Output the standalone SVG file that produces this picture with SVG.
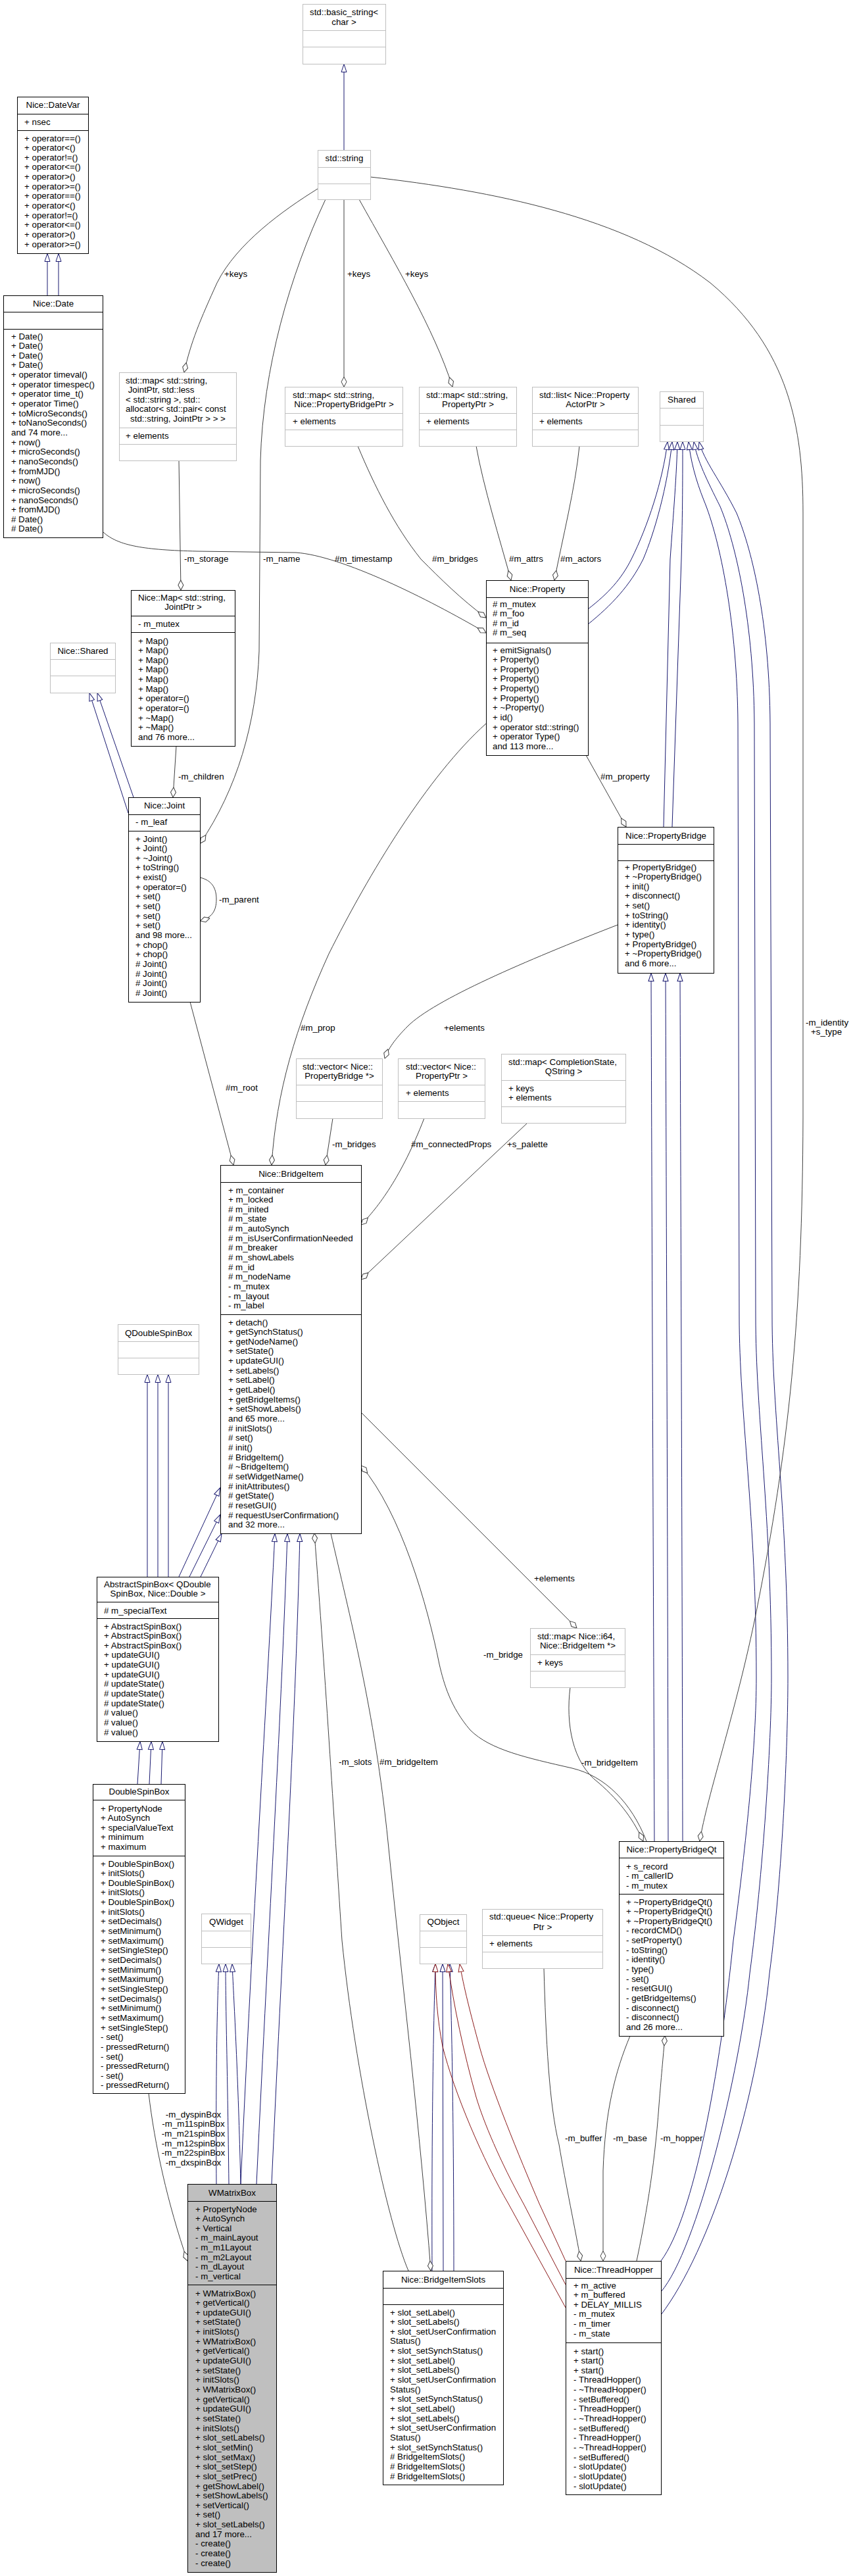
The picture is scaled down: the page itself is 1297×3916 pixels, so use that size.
<svg xmlns="http://www.w3.org/2000/svg" width="1297" height="3916" viewBox="0 0 1297 3916">
<style>
text{font-family:"Liberation Sans",Arial,sans-serif;font-size:13.33px;fill:#000}
.c{text-anchor:middle}
.b{fill:#fff;stroke:#000;stroke-width:1}
.g{fill:#fff;stroke:#bfbfbf;stroke-width:1}
.f{fill:#bfbfbf;stroke:#000;stroke-width:1}
.bs{fill:none;stroke:#000;stroke-width:1}
.gs{fill:none;stroke:#bfbfbf;stroke-width:1}
.e{fill:none;stroke:#404040;stroke-width:1;marker-end:url(#dia)}
.i{fill:none;stroke:#191970;stroke-width:1;marker-end:url(#tri)}
.p{fill:none;stroke:#8b1a1a;stroke-width:1;marker-end:url(#trir)}
</style>
<defs>
<marker id="tri" viewBox="0 0 14 10" refX="13" refY="5" markerWidth="14" markerHeight="10" markerUnits="userSpaceOnUse" orient="auto"><path d="M1,1 L13,5 L1,9 Z" fill="#fff" stroke="#191970"/></marker>
<marker id="trir" viewBox="0 0 14 10" refX="13" refY="5" markerWidth="14" markerHeight="10" markerUnits="userSpaceOnUse" orient="auto"><path d="M1,1 L13,5 L1,9 Z" fill="#fff" stroke="#8b1a1a"/></marker>
<marker id="dia" viewBox="0 0 16 10" refX="15.5" refY="5" markerWidth="16" markerHeight="10" markerUnits="userSpaceOnUse" orient="auto"><path d="M0.5,5 L8,1 L15.5,5 L8,9 Z" fill="#fff" stroke="#404040"/></marker>
</defs>
<rect width="1297" height="3916" fill="#fff"/>

<g id="connectors">
<path class="i" d="M523,228 L523,97.5"/>
<path class="i" d="M72,449 L72,385.5"/>
<path class="i" d="M89,449 L89,385.5"/>
<path class="i" d="M195,1236 L136,1053.5"/>
<path class="i" d="M203,1212 L148,1053.5"/>
<path class="i" d="M894,926 C925,902 945,880 960,850 C985,800 1008,730 1015,671.5"/>
<path class="i" d="M894,949 C930,920 958,890 978,850 C995,810 1015,740 1022,671.5"/>
<path class="i" d="M1009,1257 L1019,850 C1024,780 1029,720 1030,671.5"/>
<path class="i" d="M1022,1257 L1036,850 C1038,780 1038,720 1038,671.5"/>
<path class="i" d="M1005,3437 C1055,3370 1095,3150 1115,2950 C1135,2800 1150,2650 1150,2550 C1150,2300 1124,2150 1124,2000 L1122,1100 C1121,950 1095,820 1070,760 C1058,730 1050,700 1047,671.5"/>
<path class="i" d="M1005,3484 C1060,3420 1125,3150 1140,3000 C1160,2850 1173,2650 1173,2550 C1173,2300 1149,2150 1149,2000 L1147,1100 C1146,950 1120,830 1095,770 C1075,730 1060,700 1055,671.5"/>
<path class="i" d="M1005,3519 C1080,3420 1150,3200 1170,3000 C1190,2850 1198,2650 1198,2550 C1198,2300 1174,2150 1174,2000 L1171,1100 C1170,950 1145,840 1120,780 C1095,730 1070,700 1063,671.5"/>
<path class="i" d="M995,2799 C993,2300 991,1800 990,1479.5"/>
<path class="i" d="M1016,2799 C1015,2300 1013,1800 1012,1479.5"/>
<path class="i" d="M1038,2799 C1037,2300 1035,1800 1034,1479.5"/>
<path class="i" d="M224,2397 L224,2089.5"/>
<path class="i" d="M240,2397 L240,2089.5"/>
<path class="i" d="M256,2397 L256,2089.5"/>
<path class="i" d="M272,2397 L334.5,2262"/>
<path class="i" d="M288,2397 L334.5,2303"/>
<path class="i" d="M305,2397 L337,2331.5"/>
<path class="i" d="M209,2712 L213,2647.5"/>
<path class="i" d="M227,2712 L230,2647.5"/>
<path class="i" d="M245,2712 L247,2647.5"/>
<path class="i" d="M329,3320 C328,3150 330,3050 333,2985.5"/>
<path class="i" d="M348,3320 C346,3150 343,3050 343,2985.5"/>
<path class="i" d="M366,3320 C362,3150 356,3050 353,2985.5"/>
<path class="i" d="M366,3320 C385,2900 405,2600 418,2331.5"/>
<path class="i" d="M390,3320 C410,2900 428,2600 437,2331.5"/>
<path class="i" d="M413,3320 C432,2900 450,2600 456,2331.5"/>
<path class="i" d="M657,3452 C656,3200 660,3050 662,2985.5"/>
<path class="i" d="M674,3452 L673,2985.5"/>
<path class="i" d="M690,3452 C690,3200 686,3050 684,2985.5"/>
<path class="p" d="M860,3508 L773,3350 C735,3285 690,3180 673,3111 C665,3070 662,3030 662,2985.5"/>
<path class="p" d="M860,3473 L796,3350 C760,3285 735,3225 724,3188 C705,3120 690,3050 681,2985.5"/>
<path class="p" d="M860,3437 L820,3350 C790,3280 745,3170 729,3111 C715,3060 705,3020 699,2985.5"/>

<path class="e" d="M483,287 C430,320 360,370 330,430 C305,485 290,520 280,566"/>
<path class="e" d="M523,303 L523,588"/>
<path class="e" d="M546,303 C600,400 660,500 688,588"/>
<path class="e" d="M495,303 C440,420 400,560 396,700 L394,990 C390,1100 360,1200 304.5,1282"/>
<path class="e" d="M272,700 L275,897"/>
<path class="e" d="M268,1134 L263,1212"/>
<path class="e" d="M304,1334 C322,1338 329,1350 329,1367 C329,1385 322,1395 304.5,1400"/>
<path class="e" d="M157,809 C180,830 220,836 300,838 L450,840 C520,845 650,910 739,962"/>
<path class="e" d="M544,678 C570,740 600,800 640,850 C670,880 700,910 739,939"/>
<path class="e" d="M724,678 C735,740 760,820 777,882"/>
<path class="e" d="M881,678 C875,740 855,820 843,882"/>
<path class="e" d="M891,1148 L952,1257"/>
<path class="e" d="M739,1100 C650,1180 560,1330 500,1450 C450,1560 420,1660 413,1771"/>
<path class="e" d="M289,1523 L355,1771"/>
<path class="e" d="M563,269 C750,290 950,330 1080,430 C1200,530 1221,650 1221,780 L1221,1700 C1220,2000 1200,2200 1150,2450 C1120,2600 1075,2730 1064,2799"/>
<path class="e" d="M939,1406 C800,1460 660,1520 620,1560 C600,1580 590,1595 585,1609"/>
<path class="e" d="M506,1700 L495,1771"/>
<path class="e" d="M645,1700 C610,1790 575,1835 549,1862"/>
<path class="e" d="M802,1707 L549,1945"/>
<path class="e" d="M549,2147 L877,2475"/>
<path class="e" d="M983,2799 C960,2740 920,2700 870,2688 C800,2672 745,2660 715,2630 C685,2595 675,2560 668,2530 C650,2440 610,2300 549,2228"/>
<path class="e" d="M867,2565 C860,2620 870,2680 910,2710 C945,2740 965,2770 978,2799"/>
<path class="e" d="M621,3452 C590,3380 540,3150 520,2950 C510,2800 495,2550 478,2331"/>
<path class="e" d="M503,2331 C530,2450 570,2600 590,2800 C610,3000 640,3250 655,3452"/>
<path class="e" d="M226,3182 C235,3260 255,3350 285,3437"/>
<path class="e" d="M827,2992 C830,3100 835,3200 850,3260 C860,3320 875,3390 883,3437"/>
<path class="e" d="M958,3095 C935,3150 920,3210 917,3300 L917,3437"/>
<path class="e" d="M968,3437 C980,3380 995,3300 1002,3200 C1006,3150 1009,3120 1011,3095"/>

<g id="edge-labels">
<text x="341" y="420.5">+keys</text>
<text x="528" y="420.5">+keys</text>
<text x="616" y="420.5">+keys</text>
<text x="280" y="853.5">-m_storage</text>
<text x="400" y="853.5">-m_name</text>
<text x="509" y="853.5">#m_timestamp</text>
<text x="657" y="853.5">#m_bridges</text>
<text x="774" y="853.5">#m_attrs</text>
<text x="852" y="853.5">#m_actors</text>
<text x="271" y="1184.5">-m_children</text>
<text x="333" y="1371.5">-m_parent</text>
<text x="913" y="1184.5">#m_property</text>
<text x="1225" y="1559">-m_identity</text>
<text x="1233" y="1572.5">+s_type</text>
<text x="675" y="1566.5">+elements</text>
<text x="457" y="1566.5">#m_prop</text>
<text x="343" y="1657.5">#m_root</text>
<text x="505" y="1743.5">-m_bridges</text>
<text x="625" y="1743.5">#m_connectedProps</text>
<text x="771" y="1743.5">+s_palette</text>
<text x="812" y="2404">+elements</text>
<text x="735" y="2520">-m_bridge</text>
<text x="515" y="2682.5">-m_slots</text>
<text x="577" y="2682.5">#m_bridgeItem</text>
<text x="884" y="2683.5">-m_bridgeItem</text>
<text class="c" x="294" y="3218.5">-m_dyspinBox</text>
<text class="c" x="294" y="3233.2">-m_m11spinBox</text>
<text class="c" x="294" y="3247.8">-m_m21spinBox</text>
<text class="c" x="294" y="3262.5">-m_m12spinBox</text>
<text class="c" x="294" y="3277.1">-m_m22spinBox</text>
<text class="c" x="294" y="3291.8">-m_dxspinBox</text>
<text x="859" y="3254.5">-m_buffer</text>
<text x="932" y="3254.5">-m_base</text>
<text x="1004" y="3254.5">-m_hopper</text>
</g>
</g>

<g id="node-basic_string"><rect class="g" x="460.5" y="6.5" width="126" height="91"/><path class="gs" d="M460.5,46.5H586.5M460.5,71.5H586.5"/><text x="471" y="22.5">std::basic_string&lt;</text><text class="c" x="523" y="37.5">char &gt;</text></g>

<g id="node-string"><rect class="g" x="483.5" y="228.5" width="80" height="75"/><path class="gs" d="M483.5,254.5H563.5M483.5,279.5H563.5"/><text class="c" x="523.5" y="244.5">std::string</text></g>

<g id="node-DateVar"><rect class="b" x="26.5" y="147.5" width="108" height="238"/><path class="bs" d="M26.5,173.5H134.5M26.5,198.5H134.5"/><text class="c" x="80.5" y="163.5">Nice::DateVar</text><text x="37" y="189.5">+ nsec</text>
<text x="37" y="214.5"><tspan x="37">+ operator==()</tspan><tspan x="37" dy="14.65">+ operator&lt;()</tspan><tspan x="37" dy="14.65">+ operator!=()</tspan><tspan x="37" dy="14.65">+ operator&lt;=()</tspan><tspan x="37" dy="14.65">+ operator&gt;()</tspan><tspan x="37" dy="14.65">+ operator&gt;=()</tspan><tspan x="37" dy="14.65">+ operator==()</tspan><tspan x="37" dy="14.65">+ operator&lt;()</tspan><tspan x="37" dy="14.65">+ operator!=()</tspan><tspan x="37" dy="14.65">+ operator&lt;=()</tspan><tspan x="37" dy="14.65">+ operator&gt;()</tspan><tspan x="37" dy="14.65">+ operator&gt;=()</tspan></text></g>

<g id="node-Date"><rect class="b" x="5.5" y="449.5" width="151" height="368"/><path class="bs" d="M5.5,474.5H156.5M5.5,500.5H156.5"/><text class="c" x="81" y="465.5">Nice::Date</text>
<text x="17" y="515.5"><tspan x="17">+ Date()</tspan><tspan x="17" dy="14.65">+ Date()</tspan><tspan x="17" dy="14.65">+ Date()</tspan><tspan x="17" dy="14.65">+ Date()</tspan><tspan x="17" dy="14.65">+ operator timeval()</tspan><tspan x="17" dy="14.65">+ operator timespec()</tspan><tspan x="17" dy="14.65">+ operator time_t()</tspan><tspan x="17" dy="14.65">+ operator Time()</tspan><tspan x="17" dy="14.65">+ toMicroSeconds()</tspan><tspan x="17" dy="14.65">+ toNanoSeconds()</tspan><tspan x="17" dy="14.65">and 74 more...</tspan><tspan x="17" dy="14.65">+ now()</tspan><tspan x="17" dy="14.65">+ microSeconds()</tspan><tspan x="17" dy="14.65">+ nanoSeconds()</tspan><tspan x="17" dy="14.65">+ fromMJD()</tspan><tspan x="17" dy="14.65">+ now()</tspan><tspan x="17" dy="14.65">+ microSeconds()</tspan><tspan x="17" dy="14.65">+ nanoSeconds()</tspan><tspan x="17" dy="14.65">+ fromMJD()</tspan><tspan x="17" dy="14.65"># Date()</tspan><tspan x="17" dy="14.65"># Date()</tspan></text></g>

<g id="node-map-JointPtr"><rect class="g" x="181.5" y="566.5" width="178" height="134"/><path class="gs" d="M181.5,650.5H359.5M181.5,675.5H359.5"/>
<text x="191" y="582.5"><tspan x="191">std::map&lt; std::string,</tspan><tspan x="191" dy="14.65"> JointPtr, std::less</tspan><tspan x="191" dy="14.65">&lt; std::string &gt;, std::</tspan><tspan x="191" dy="14.65">allocator&lt; std::pair&lt; const</tspan></text><text class="c" x="270.5" y="641.1">std::string, JointPtr &gt; &gt; &gt;</text><text x="191" y="666.5">+ elements</text></g>

<g id="node-map-PropertyBridgePtr"><rect class="g" x="433.5" y="588.5" width="179" height="90"/><path class="gs" d="M433.5,628.5H612.5M433.5,653.5H612.5"/><text x="445" y="604.5">std::map&lt; std::string,</text><text class="c" x="523" y="619.2">Nice::PropertyBridgePtr &gt;</text><text x="445" y="644.5">+ elements</text></g>

<g id="node-map-PropertyPtr"><rect class="g" x="637.5" y="588.5" width="148" height="90"/><path class="gs" d="M637.5,628.5H785.5M637.5,653.5H785.5"/><text x="648" y="604.5">std::map&lt; std::string,</text><text class="c" x="711.5" y="619.2">PropertyPtr &gt;</text><text x="648" y="644.5">+ elements</text></g>

<g id="node-list-PropertyActorPtr"><rect class="g" x="809.5" y="588.5" width="161" height="90"/><path class="gs" d="M809.5,628.5H970.5M809.5,653.5H970.5"/><text x="820" y="604.5">std::list&lt; Nice::Property</text><text class="c" x="890" y="619.2">ActorPtr &gt;</text><text x="820" y="644.5">+ elements</text></g>

<g id="node-Shared"><rect class="g" x="1003.5" y="595.5" width="66" height="76"/><path class="gs" d="M1003.5,620.5H1069.5M1003.5,646.5H1069.5"/><text class="c" x="1036.5" y="611.5">Shared</text></g>

<g id="node-Map"><rect class="b" x="199.5" y="897.5" width="158" height="237"/><path class="bs" d="M199.5,936.5H357.5M199.5,961.5H357.5"/><text x="210" y="912.5">Nice::Map&lt; std::string,</text><text class="c" x="278.5" y="926.5">JointPtr &gt;</text><text x="210" y="952.5">- m_mutex</text>
<text x="210" y="978.5"><tspan x="210">+ Map()</tspan><tspan x="210" dy="14.65">+ Map()</tspan><tspan x="210" dy="14.65">+ Map()</tspan><tspan x="210" dy="14.65">+ Map()</tspan><tspan x="210" dy="14.65">+ Map()</tspan><tspan x="210" dy="14.65">+ Map()</tspan><tspan x="210" dy="14.65">+ operator=()</tspan><tspan x="210" dy="14.65">+ operator=()</tspan><tspan x="210" dy="14.65">+ ~Map()</tspan><tspan x="210" dy="14.65">+ ~Map()</tspan><tspan x="210" dy="14.65">and 76 more...</tspan></text></g>

<g id="node-NiceShared"><rect class="g" x="76.5" y="977.5" width="99" height="76"/><path class="gs" d="M76.5,1002.5H175.5M76.5,1027.5H175.5"/><text class="c" x="126" y="993.5">Nice::Shared</text></g>

<g id="node-Joint"><rect class="b" x="195.5" y="1212.5" width="109" height="311"/><path class="bs" d="M195.5,1238.5H304.5M195.5,1263.5H304.5"/><text class="c" x="250" y="1228.5">Nice::Joint</text><text x="206" y="1253.5">- m_leaf</text>
<text x="206" y="1279.5"><tspan x="206">+ Joint()</tspan><tspan x="206" dy="14.65">+ Joint()</tspan><tspan x="206" dy="14.65">+ ~Joint()</tspan><tspan x="206" dy="14.65">+ toString()</tspan><tspan x="206" dy="14.65">+ exist()</tspan><tspan x="206" dy="14.65">+ operator=()</tspan><tspan x="206" dy="14.65">+ set()</tspan><tspan x="206" dy="14.65">+ set()</tspan><tspan x="206" dy="14.65">+ set()</tspan><tspan x="206" dy="14.65">+ set()</tspan><tspan x="206" dy="14.65">and 98 more...</tspan><tspan x="206" dy="14.65">+ chop()</tspan><tspan x="206" dy="14.65">+ chop()</tspan><tspan x="206" dy="14.65"># Joint()</tspan><tspan x="206" dy="14.65"># Joint()</tspan><tspan x="206" dy="14.65"># Joint()</tspan><tspan x="206" dy="14.65"># Joint()</tspan></text></g>

<g id="node-Property"><rect class="b" x="739.5" y="882.5" width="155" height="266"/><path class="bs" d="M739.5,908.5H894.5M739.5,977.5H894.5"/><text class="c" x="817" y="899.5">Nice::Property</text>
<text x="749" y="922.5"><tspan x="749"># m_mutex</tspan><tspan x="749" dy="14.65"># m_foo</tspan><tspan x="749" dy="14.65"># m_id</tspan><tspan x="749" dy="14.65"># m_seq</tspan></text>
<text x="749" y="992.5"><tspan x="749">+ emitSignals()</tspan><tspan x="749" dy="14.65">+ Property()</tspan><tspan x="749" dy="14.65">+ Property()</tspan><tspan x="749" dy="14.65">+ Property()</tspan><tspan x="749" dy="14.65">+ Property()</tspan><tspan x="749" dy="14.65">+ Property()</tspan><tspan x="749" dy="14.65">+ ~Property()</tspan><tspan x="749" dy="14.65">+ id()</tspan><tspan x="749" dy="14.65">+ operator std::string()</tspan><tspan x="749" dy="14.65">+ operator Type()</tspan><tspan x="749" dy="14.65">and 113 more...</tspan></text></g>

<g id="node-PropertyBridge"><rect class="b" x="939.5" y="1257.5" width="146" height="222"/><path class="bs" d="M939.5,1283.5H1085.5M939.5,1308.5H1085.5"/><text class="c" x="1012.5" y="1274.5">Nice::PropertyBridge</text>
<text x="950" y="1322.5"><tspan x="950">+ PropertyBridge()</tspan><tspan x="950" dy="14.65">+ ~PropertyBridge()</tspan><tspan x="950" dy="14.65">+ init()</tspan><tspan x="950" dy="14.65">+ disconnect()</tspan><tspan x="950" dy="14.65">+ set()</tspan><tspan x="950" dy="14.65">+ toString()</tspan><tspan x="950" dy="14.65">+ identity()</tspan><tspan x="950" dy="14.65">+ type()</tspan><tspan x="950" dy="14.65">+ PropertyBridge()</tspan><tspan x="950" dy="14.65">+ ~PropertyBridge()</tspan><tspan x="950" dy="14.65">and 6 more...</tspan></text></g>

<g id="node-vector-PropertyBridge"><rect class="g" x="450.5" y="1609.5" width="131" height="91"/><path class="gs" d="M450.5,1649.5H581.5M450.5,1674.5H581.5"/><text x="460" y="1625.5">std::vector&lt; Nice::</text><text class="c" x="516" y="1640.2">PropertyBridge *&gt;</text></g>

<g id="node-vector-PropertyPtr"><rect class="g" x="605.5" y="1609.5" width="132" height="91"/><path class="gs" d="M605.5,1649.5H737.5M605.5,1674.5H737.5"/><text x="617" y="1625.5">std::vector&lt; Nice::</text><text class="c" x="671.5" y="1640.2">PropertyPtr &gt;</text><text x="617" y="1665.5">+ elements</text></g>

<g id="node-map-CompletionState"><rect class="g" x="762.5" y="1602.5" width="189" height="105"/><path class="gs" d="M762.5,1642.5H951.5M762.5,1682.5H951.5"/><text x="773" y="1618.5">std::map&lt; CompletionState,</text><text class="c" x="857" y="1633.2">QString &gt;</text><text x="773" y="1658.5">+ keys</text><text x="773" y="1673.2">+ elements</text></g>

<g id="node-BridgeItem"><rect class="b" x="335.5" y="1771.5" width="214" height="560"/><path class="bs" d="M335.5,1797.5H549.5M335.5,1998.5H549.5"/><text class="c" x="442.5" y="1788.5">Nice::BridgeItem</text>
<text x="347" y="1813.5"><tspan x="347">+ m_container</tspan><tspan x="347" dy="14.65">+ m_locked</tspan><tspan x="347" dy="14.65"># m_inited</tspan><tspan x="347" dy="14.65"># m_state</tspan><tspan x="347" dy="14.65"># m_autoSynch</tspan><tspan x="347" dy="14.65"># m_isUserConfirmationNeeded</tspan><tspan x="347" dy="14.65"># m_breaker</tspan><tspan x="347" dy="14.65"># m_showLabels</tspan><tspan x="347" dy="14.65"># m_id</tspan><tspan x="347" dy="14.65"># m_nodeName</tspan><tspan x="347" dy="14.65">- m_mutex</tspan><tspan x="347" dy="14.65">- m_layout</tspan><tspan x="347" dy="14.65">- m_label</tspan></text>
<text x="347" y="2014.5"><tspan x="347">+ detach()</tspan><tspan x="347" dy="14.65">+ getSynchStatus()</tspan><tspan x="347" dy="14.65">+ getNodeName()</tspan><tspan x="347" dy="14.65">+ setState()</tspan><tspan x="347" dy="14.65">+ updateGUI()</tspan><tspan x="347" dy="14.65">+ setLabels()</tspan><tspan x="347" dy="14.65">+ setLabel()</tspan><tspan x="347" dy="14.65">+ getLabel()</tspan><tspan x="347" dy="14.65">+ getBridgeItems()</tspan><tspan x="347" dy="14.65">+ setShowLabels()</tspan><tspan x="347" dy="14.65">and 65 more...</tspan><tspan x="347" dy="14.65"># initSlots()</tspan><tspan x="347" dy="14.65"># set()</tspan><tspan x="347" dy="14.65"># init()</tspan><tspan x="347" dy="14.65"># BridgeItem()</tspan><tspan x="347" dy="14.65"># ~BridgeItem()</tspan><tspan x="347" dy="14.65"># setWidgetName()</tspan><tspan x="347" dy="14.65"># initAttributes()</tspan><tspan x="347" dy="14.65"># getState()</tspan><tspan x="347" dy="14.65"># resetGUI()</tspan><tspan x="347" dy="14.65"># requestUserConfirmation()</tspan><tspan x="347" dy="14.65">and 32 more...</tspan></text></g>

<g id="node-QDoubleSpinBox"><rect class="g" x="179.5" y="2013.5" width="123" height="76"/><path class="gs" d="M179.5,2039.5H302.5M179.5,2064.5H302.5"/><text class="c" x="241" y="2030.5">QDoubleSpinBox</text></g>

<g id="node-AbstractSpinBox"><rect class="b" x="147.5" y="2397.5" width="185" height="250"/><path class="bs" d="M147.5,2435.5H332.5M147.5,2460.5H332.5"/><text x="158" y="2412.5">AbstractSpinBox&lt; QDouble</text><text class="c" x="240" y="2427.2">SpinBox, Nice::Double &gt;</text><text x="158" y="2452.5"># m_specialText</text>
<text x="158" y="2476.5"><tspan x="158">+ AbstractSpinBox()</tspan><tspan x="158" dy="14.65">+ AbstractSpinBox()</tspan><tspan x="158" dy="14.65">+ AbstractSpinBox()</tspan><tspan x="158" dy="14.65">+ updateGUI()</tspan><tspan x="158" dy="14.65">+ updateGUI()</tspan><tspan x="158" dy="14.65">+ updateGUI()</tspan><tspan x="158" dy="14.65"># updateState()</tspan><tspan x="158" dy="14.65"># updateState()</tspan><tspan x="158" dy="14.65"># updateState()</tspan><tspan x="158" dy="14.65"># value()</tspan><tspan x="158" dy="14.65"># value()</tspan><tspan x="158" dy="14.65"># value()</tspan></text></g>

<g id="node-DoubleSpinBox"><rect class="b" x="141.5" y="2712.5" width="140" height="470"/><path class="bs" d="M141.5,2736.5H281.5M141.5,2821.5H281.5"/><text class="c" x="211.5" y="2727.5">DoubleSpinBox</text>
<text x="153" y="2753.5"><tspan x="153">+ PropertyNode</tspan><tspan x="153" dy="14.65">+ AutoSynch</tspan><tspan x="153" dy="14.65">+ specialValueText</tspan><tspan x="153" dy="14.65">+ minimum</tspan><tspan x="153" dy="14.65">+ maximum</tspan></text>
<text x="153" y="2837.5"><tspan x="153">+ DoubleSpinBox()</tspan><tspan x="153" dy="14.65">+ initSlots()</tspan><tspan x="153" dy="14.65">+ DoubleSpinBox()</tspan><tspan x="153" dy="14.65">+ initSlots()</tspan><tspan x="153" dy="14.65">+ DoubleSpinBox()</tspan><tspan x="153" dy="14.65">+ initSlots()</tspan><tspan x="153" dy="14.65">+ setDecimals()</tspan><tspan x="153" dy="14.65">+ setMinimum()</tspan><tspan x="153" dy="14.65">+ setMaximum()</tspan><tspan x="153" dy="14.65">+ setSingleStep()</tspan><tspan x="153" dy="14.65">+ setDecimals()</tspan><tspan x="153" dy="14.65">+ setMinimum()</tspan><tspan x="153" dy="14.65">+ setMaximum()</tspan><tspan x="153" dy="14.65">+ setSingleStep()</tspan><tspan x="153" dy="14.65">+ setDecimals()</tspan><tspan x="153" dy="14.65">+ setMinimum()</tspan><tspan x="153" dy="14.65">+ setMaximum()</tspan><tspan x="153" dy="14.65">+ setSingleStep()</tspan><tspan x="153" dy="14.65">- set()</tspan><tspan x="153" dy="14.65">- pressedReturn()</tspan><tspan x="153" dy="14.65">- set()</tspan><tspan x="153" dy="14.65">- pressedReturn()</tspan><tspan x="153" dy="14.65">- set()</tspan><tspan x="153" dy="14.65">- pressedReturn()</tspan></text></g>

<g id="node-QWidget"><rect class="g" x="306.5" y="2909.5" width="75" height="76"/><path class="gs" d="M306.5,2935.5H381.5M306.5,2960.5H381.5"/><text class="c" x="344" y="2925.5">QWidget</text></g>

<g id="node-WMatrixBox"><rect class="f" x="285.5" y="3320.5" width="135" height="590"/><path class="bs" d="M285.5,3346.5H420.5M285.5,3473.5H420.5"/><text class="c" x="353" y="3337.5">WMatrixBox</text>
<text x="297" y="3362.5"><tspan x="297">+ PropertyNode</tspan><tspan x="297" dy="14.65">+ AutoSynch</tspan><tspan x="297" dy="14.65">+ Vertical</tspan><tspan x="297" dy="14.65">- m_mainLayout</tspan><tspan x="297" dy="14.65">- m_m1Layout</tspan><tspan x="297" dy="14.65">- m_m2Layout</tspan><tspan x="297" dy="14.65">- m_dLayout</tspan><tspan x="297" dy="14.65">- m_vertical</tspan></text>
<text x="297" y="3490.5"><tspan x="297">+ WMatrixBox()</tspan><tspan x="297" dy="14.65">+ getVertical()</tspan><tspan x="297" dy="14.65">+ updateGUI()</tspan><tspan x="297" dy="14.65">+ setState()</tspan><tspan x="297" dy="14.65">+ initSlots()</tspan><tspan x="297" dy="14.65">+ WMatrixBox()</tspan><tspan x="297" dy="14.65">+ getVertical()</tspan><tspan x="297" dy="14.65">+ updateGUI()</tspan><tspan x="297" dy="14.65">+ setState()</tspan><tspan x="297" dy="14.65">+ initSlots()</tspan><tspan x="297" dy="14.65">+ WMatrixBox()</tspan><tspan x="297" dy="14.65">+ getVertical()</tspan><tspan x="297" dy="14.65">+ updateGUI()</tspan><tspan x="297" dy="14.65">+ setState()</tspan><tspan x="297" dy="14.65">+ initSlots()</tspan><tspan x="297" dy="14.65">+ slot_setLabels()</tspan><tspan x="297" dy="14.65">+ slot_setMin()</tspan><tspan x="297" dy="14.65">+ slot_setMax()</tspan><tspan x="297" dy="14.65">+ slot_setStep()</tspan><tspan x="297" dy="14.65">+ slot_setPrec()</tspan><tspan x="297" dy="14.65">+ getShowLabel()</tspan><tspan x="297" dy="14.65">+ setShowLabels()</tspan><tspan x="297" dy="14.65">+ setVertical()</tspan><tspan x="297" dy="14.65">+ set()</tspan><tspan x="297" dy="14.65">+ slot_setLabels()</tspan><tspan x="297" dy="14.65">and 17 more...</tspan><tspan x="297" dy="14.65">- create()</tspan><tspan x="297" dy="14.65">- create()</tspan><tspan x="297" dy="14.65">- create()</tspan></text></g>

<g id="node-map-i64"><rect class="g" x="806.5" y="2475.5" width="144" height="90"/><path class="gs" d="M806.5,2515.5H950.5M806.5,2540.5H950.5"/><text x="817" y="2491.5">std::map&lt; Nice::i64,</text><text class="c" x="878.5" y="2506.2">Nice::BridgeItem *&gt;</text><text x="817" y="2531.5">+ keys</text></g>

<g id="node-PropertyBridgeQt"><rect class="b" x="941.5" y="2799.5" width="159" height="296"/><path class="bs" d="M941.5,2824.5H1100.5M941.5,2879.5H1100.5"/><text class="c" x="1021" y="2815.5">Nice::PropertyBridgeQt</text>
<text x="952" y="2841.5"><tspan x="952">+ s_record</tspan><tspan x="952" dy="14.65">- m_callerID</tspan><tspan x="952" dy="14.65">- m_mutex</tspan></text>
<text x="952" y="2895.5"><tspan x="952">+ ~PropertyBridgeQt()</tspan><tspan x="952" dy="14.65">+ ~PropertyBridgeQt()</tspan><tspan x="952" dy="14.65">+ ~PropertyBridgeQt()</tspan><tspan x="952" dy="14.65">- recordCMD()</tspan><tspan x="952" dy="14.65">- setProperty()</tspan><tspan x="952" dy="14.65">- toString()</tspan><tspan x="952" dy="14.65">- identity()</tspan><tspan x="952" dy="14.65">- type()</tspan><tspan x="952" dy="14.65">- set()</tspan><tspan x="952" dy="14.65">- resetGUI()</tspan><tspan x="952" dy="14.65">- getBridgeItems()</tspan><tspan x="952" dy="14.65">- disconnect()</tspan><tspan x="952" dy="14.65">- disconnect()</tspan><tspan x="952" dy="14.65">and 26 more...</tspan></text></g>

<g id="node-QObject"><rect class="g" x="638.5" y="2910.5" width="71" height="75"/><path class="gs" d="M638.5,2935.5H709.5M638.5,2960.5H709.5"/><text class="c" x="674" y="2925.5">QObject</text></g>

<g id="node-queue-PropertyPtr"><rect class="g" x="733.5" y="2902.5" width="183" height="90"/><path class="gs" d="M733.5,2942.5H916.5M733.5,2967.5H916.5"/><text x="744" y="2917.5">std::queue&lt; Nice::Property</text><text class="c" x="825" y="2933.5">Ptr &gt;</text><text x="744" y="2958.5">+ elements</text></g>

<g id="node-BridgeItemSlots"><rect class="b" x="582.5" y="3452.5" width="183" height="325"/><path class="bs" d="M582.5,3478.5H765.5M582.5,3503.5H765.5"/><text class="c" x="674" y="3469.5">Nice::BridgeItemSlots</text>
<text x="593" y="3519.5"><tspan x="593">+ slot_setLabel()</tspan><tspan x="593" dy="14.65">+ slot_setLabels()</tspan><tspan x="593" dy="14.65">+ slot_setUserConfirmation</tspan><tspan x="593" dy="14.65">Status()</tspan><tspan x="593" dy="14.65">+ slot_setSynchStatus()</tspan><tspan x="593" dy="14.65">+ slot_setLabel()</tspan><tspan x="593" dy="14.65">+ slot_setLabels()</tspan><tspan x="593" dy="14.65">+ slot_setUserConfirmation</tspan><tspan x="593" dy="14.65">Status()</tspan><tspan x="593" dy="14.65">+ slot_setSynchStatus()</tspan><tspan x="593" dy="14.65">+ slot_setLabel()</tspan><tspan x="593" dy="14.65">+ slot_setLabels()</tspan><tspan x="593" dy="14.65">+ slot_setUserConfirmation</tspan><tspan x="593" dy="14.65">Status()</tspan><tspan x="593" dy="14.65">+ slot_setSynchStatus()</tspan><tspan x="593" dy="14.65"># BridgeItemSlots()</tspan><tspan x="593" dy="14.65"># BridgeItemSlots()</tspan><tspan x="593" dy="14.65"># BridgeItemSlots()</tspan></text></g>

<g id="node-ThreadHopper"><rect class="b" x="860.5" y="3437.5" width="145" height="355"/><path class="bs" d="M860.5,3463.5H1005.5M860.5,3561.5H1005.5"/><text class="c" x="933" y="3454.5">Nice::ThreadHopper</text>
<text x="872" y="3478.5"><tspan x="872">+ m_active</tspan><tspan x="872" dy="14.65">+ m_buffered</tspan><tspan x="872" dy="14.65">+ DELAY_MILLIS</tspan><tspan x="872" dy="14.65">- m_mutex</tspan><tspan x="872" dy="14.65">- m_timer</tspan><tspan x="872" dy="14.65">- m_state</tspan></text>
<text x="872" y="3578.5"><tspan x="872">+ start()</tspan><tspan x="872" dy="14.65">+ start()</tspan><tspan x="872" dy="14.65">+ start()</tspan><tspan x="872" dy="14.65">- ThreadHopper()</tspan><tspan x="872" dy="14.65">- ~ThreadHopper()</tspan><tspan x="872" dy="14.65">- setBuffered()</tspan><tspan x="872" dy="14.65">- ThreadHopper()</tspan><tspan x="872" dy="14.65">- ~ThreadHopper()</tspan><tspan x="872" dy="14.65">- setBuffered()</tspan><tspan x="872" dy="14.65">- ThreadHopper()</tspan><tspan x="872" dy="14.65">- ~ThreadHopper()</tspan><tspan x="872" dy="14.65">- setBuffered()</tspan><tspan x="872" dy="14.65">- slotUpdate()</tspan><tspan x="872" dy="14.65">- slotUpdate()</tspan><tspan x="872" dy="14.65">- slotUpdate()</tspan></text></g>
</svg>
